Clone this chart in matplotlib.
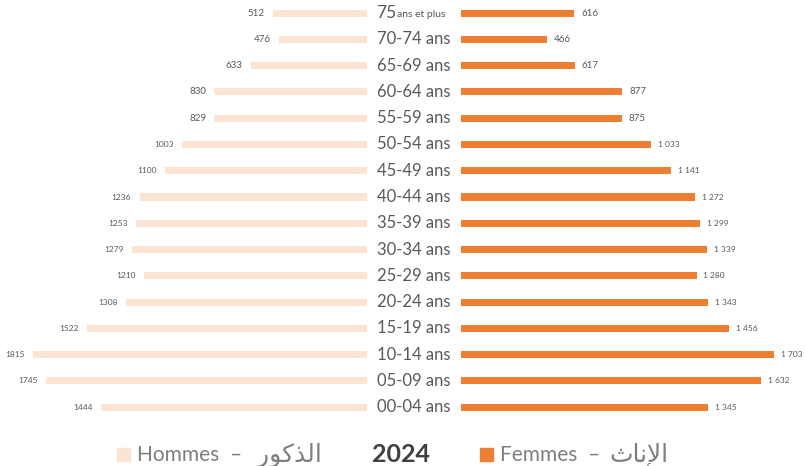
import matplotlib.pyplot as plt
from matplotlib.patches import Rectangle

# Population par tranche d'âge (milliers), 2024
ages = ["75", "70-74 ans", "65-69 ans", "60-64 ans", "55-59 ans", "50-54 ans",
        "45-49 ans", "40-44 ans", "35-39 ans", "30-34 ans", "25-29 ans",
        "20-24 ans", "15-19 ans", "10-14 ans", "05-09 ans", "00-04 ans"]
hommes = [512, 476, 633, 830, 829, 1003, 1100, 1236, 1253, 1279, 1210,
          1308, 1522, 1815, 1745, 1444]
femmes = [616, 466, 617, 877, 875, 1033, 1141, 1272, 1299, 1339, 1280,
          1343, 1456, 1703, 1632, 1345]

LIGHT = "#FDE4D2"
ORANGE = "#EE7F32"
GREY = "#595959"
FONT = "Lato"

# Arabic labels pre-shaped (presentation forms, visual order)
AR_HOMMES = "\uFEAD\uFEEE\uFEDB\uFEAC\uFEDF\uFE8D"   # الذكور
AR_FEMMES = "\uFE99\uFE8E\uFEE7\uFEF9\uFE8D"          # الإناث

W, H = 805, 466
fig = plt.figure(figsize=(W / 100, H / 100), dpi=100)

row_h = 26.27
n = len(ages)
ax_h = n * row_h
ax_bottom = (H - ax_h) / H
scale = 0.184  # px per unit

left_w = 367
right_x = 461
ax_l = fig.add_axes([0, ax_bottom, left_w / W, ax_h / H])
ax_r = fig.add_axes([right_x / W, ax_bottom, (W - right_x) / W, ax_h / H])

ypos = list(range(n))
ax_l.barh(ypos, hommes, height=0.27, color=LIGHT)
ax_r.barh(ypos, femmes, height=0.27, color=ORANGE)
ax_l.set_xlim(left_w / scale, 0)
ax_r.set_xlim(0, (W - right_x) / scale)

for ax in (ax_l, ax_r):
    ax.set_ylim(n - 0.5, -0.5)
    ax.axis("off")

for i, v in enumerate(hommes):
    ax_l.annotate(str(v), (v, i), xytext=(-6, 0), textcoords="offset points",
                  ha="right", va="center", fontsize=6 if v >= 1000 else 7,
                  color=GREY, family=FONT)
for i, v in enumerate(femmes):
    lab = f"{v:,}".replace(",", " ")
    ax_r.annotate(lab, (v, i), xytext=(5, 0), textcoords="offset points",
                  ha="left", va="center", fontsize=6 if v >= 1000 else 7,
                  color=GREY, family=FONT)

# age labels in the central gap
cx = 414 / W
for i, a in enumerate(ages):
    y = ax_bottom + (n - 0.5 - i) * row_h / H
    if i == 0:
        fig.text(376 / W, y, a, ha="left", va="center", fontsize=12.5,
                 color=GREY, family=FONT)
        fig.text(397 / W, y - 1 / H, "ans et plus", ha="left", va="center",
                 fontsize=7.5, color=GREY, family=FONT)
    else:
        fig.text(cx, y, a, ha="center", va="center", fontsize=12,
                 color=GREY, family=FONT)

# legend row
ly = (H - 455) / H
fig.patches.append(Rectangle((117 / W, ly - 6 / H), 13 / W, 13 / H,
                             transform=fig.transFigure, color=LIGHT))
fig.text(137 / W, ly, "Hommes  \u2013", ha="left", va="center", fontsize=15,
         color="#7F7F7F", family=FONT)
fig.text(322 / W, ly, AR_HOMMES, ha="right", va="center", fontsize=18,
         color="#7F7F7F", family="DejaVu Sans")
fig.text(401 / W, ly, "2024", ha="center", va="center", fontsize=18,
         fontweight="bold", color="#404040", family=FONT)
fig.patches.append(Rectangle((480 / W, ly - 6 / H), 13 / W, 13 / H,
                             transform=fig.transFigure, color=ORANGE))
fig.text(500 / W, ly, "Femmes  \u2013", ha="left", va="center", fontsize=15,
         color="#7F7F7F", family=FONT)
fig.text(668 / W, ly, AR_FEMMES, ha="right", va="center", fontsize=18,
         color="#7F7F7F", family="DejaVu Sans")

fig.savefig("out.png", dpi=100)
